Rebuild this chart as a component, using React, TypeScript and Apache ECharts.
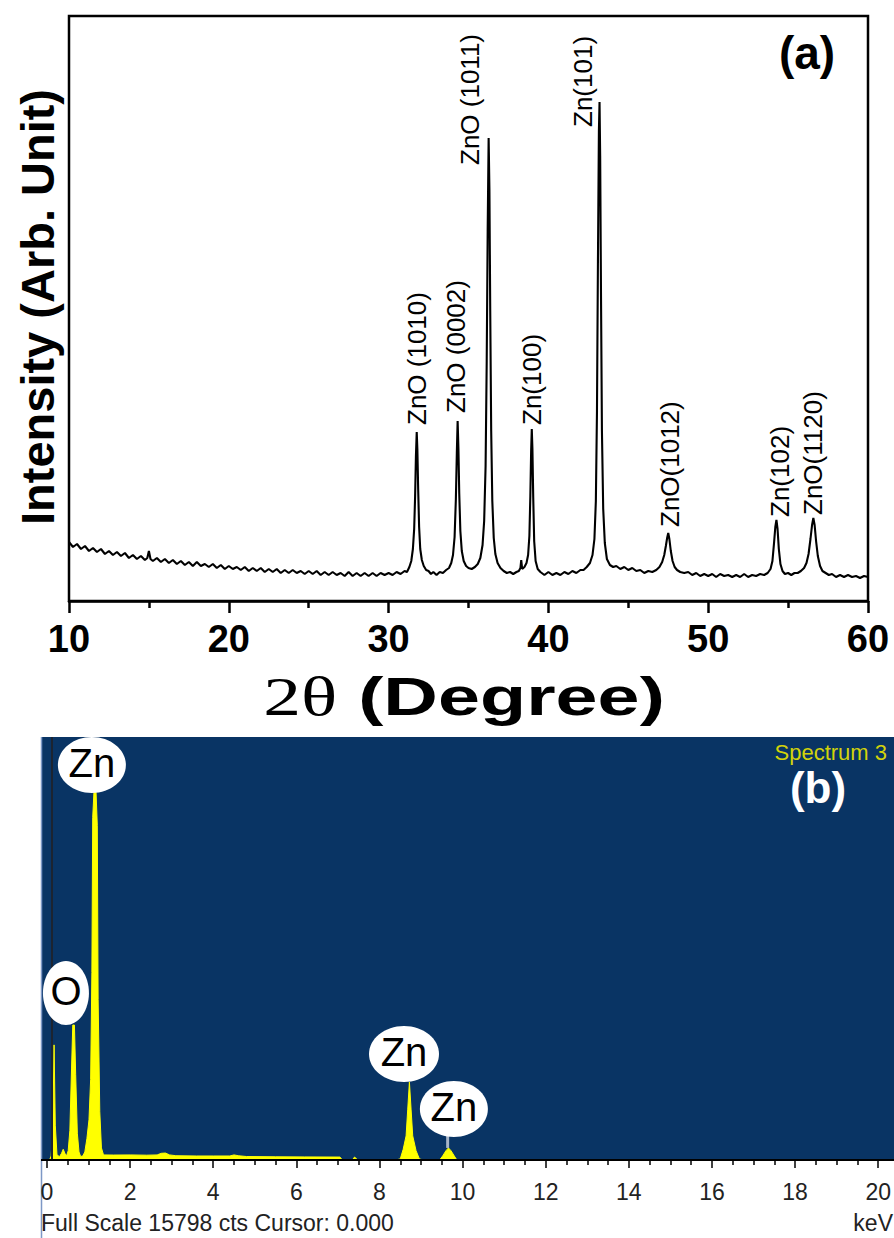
import React, { useEffect, useRef } from 'react';
import * as echarts from 'echarts';

// ---------- Panel (a): XRD pattern ----------
const xrdTicks = [10, 20, 30, 40, 50, 60];
const xrdData: [number, number][] = [
  [10.0,59],[10.25,54],[10.5,57],[10.75,52],[11.0,55],[11.25,50],[11.5,53],[11.75,49],[12.0,52],[12.25,47],[12.5,50],[12.75,46],[13.0,49],[13.25,45],[13.5,48],[13.75,43],[14.0,46],[14.25,42],[14.5,45],[14.75,41],[14.9,43],[15.0,50],[15.1,42],[15.25,40],[15.5,43],[15.75,39],[16.0,42],[16.25,38],[16.5,41],[16.75,37],[17.0,40],[17.25,36],[17.5,39],[17.75,35],[18.0,39],[18.25,35],[18.5,37],[18.75,34],[19.0,37],[19.25,33],[19.5,36],[19.75,32],[20.0,35],[20.25,32],[20.5,34],[20.75,31],[21.0,34],[21.25,30],[21.5,33],[21.75,30],[22.0,33],[22.25,29],[22.5,32],[22.75,29],[23.0,32],[23.25,28],[23.5,31],[23.75,28],[24.0,31],[24.25,28],[24.5,30],[24.75,27],[25.0,30],[25.25,27],[25.5,30],[25.75,26],[26.0,29],[26.25,26],[26.5,29],[26.75,26],[27.0,28],[27.25,25],[27.5,29],[27.75,25],[28.0,28],[28.25,25],[28.5,28],[28.75,25],[29.0,28],[29.25,25],[29.5,28],[29.75,26],[30.0,28],[30.25,26],[30.5,29],[30.75,27],[31.0,30],[31.15,29],[31.3,34],[31.42,40],[31.52,52],[31.6,72],[31.66,105],[31.71,145],[31.76,169],[31.8,152],[31.85,112],[31.91,74],[31.98,52],[32.08,41],[32.2,35],[32.35,31],[32.5,30],[32.65,27],[32.8,29],[33.0,26],[33.2,29],[33.4,28],[33.6,31],[33.78,33],[33.92,38],[34.03,46],[34.13,64],[34.21,102],[34.27,148],[34.32,180],[34.37,152],[34.42,108],[34.49,70],[34.58,50],[34.7,40],[34.85,35],[35.0,33],[35.2,32],[35.4,34],[35.58,37],[35.74,43],[35.88,56],[35.98,80],[36.07,135],[36.14,240],[36.2,370],[36.26,463],[36.31,410],[36.36,290],[36.42,170],[36.49,100],[36.58,63],[36.68,47],[36.82,38],[37.0,33],[37.2,30],[37.4,28],[37.6,29],[37.8,27],[38.0,29],[38.15,30],[38.25,33],[38.3,41],[38.36,32],[38.5,34],[38.63,38],[38.73,46],[38.81,65],[38.87,105],[38.92,150],[38.96,172],[39.0,152],[39.05,104],[39.11,60],[39.2,40],[39.33,32],[39.5,29],[39.75,26],[40.0,29],[40.25,26],[40.5,28],[40.75,26],[41.0,29],[41.25,27],[41.5,30],[41.75,28],[42.0,31],[42.2,31],[42.4,34],[42.6,38],[42.76,46],[42.88,62],[42.97,100],[43.04,190],[43.1,340],[43.16,470],[43.2,499],[43.24,445],[43.29,310],[43.35,170],[43.43,92],[43.53,58],[43.66,42],[43.85,36],[44.05,34],[44.25,35],[44.5,32],[44.75,34],[45.0,31],[45.25,33],[45.5,30],[45.75,31],[46.0,28],[46.25,30],[46.5,29],[46.75,31],[46.95,34],[47.12,39],[47.25,46],[47.35,55],[47.43,63],[47.5,68],[47.57,62],[47.66,50],[47.77,40],[47.9,34],[48.05,31],[48.25,29],[48.5,28],[48.75,29],[49.0,26],[49.25,28],[49.5,25],[49.75,27],[50.0,25],[50.25,27],[50.5,24],[50.75,27],[51.0,25],[51.25,26],[51.5,24],[51.75,26],[52.0,24],[52.25,27],[52.5,24],[52.75,26],[53.0,25],[53.25,27],[53.5,26],[53.72,28],[53.9,32],[54.02,40],[54.12,58],[54.2,74],[54.27,81],[54.34,72],[54.42,52],[54.52,37],[54.65,30],[54.8,27],[55.0,28],[55.2,26],[55.4,28],[55.6,28],[55.8,30],[56.0,33],[56.15,38],[56.28,47],[56.4,62],[56.5,76],[56.58,83],[56.66,76],[56.75,60],[56.86,45],[57.0,35],[57.15,30],[57.35,28],[57.55,26],[57.75,27],[58.0,24],[58.25,26],[58.5,24],[58.75,26],[59.0,24],[59.25,25],[59.5,23],[59.75,25],[60.0,24]
];
// label anchor (start of rotated text) in data coordinates: [2theta, intensity]
const xrdLabelText = ['ZnO (1010)', 'ZnO (0002)', 'ZnO (1011)', 'Zn(100)', 'Zn(101)', 'ZnO(1012)', 'Zn(102)', 'ZnO(1120)'];
const xrdLabelPos: [number, number][] = [
  [31.78, 176], [34.22, 188], [35.09, 436], [38.97, 176], [42.17, 474], [47.61, 74], [54.49, 84], [56.56, 86]
];

// ---------- Panel (b): EDS spectrum ----------
const edsTicks = [0, 2, 4, 6, 8, 10, 12, 14, 16, 18, 20];
const edsFullScale = 15798;
const edsData: [number, number][] = [
  [0.0,0],[0.06,0],[0.1,150],[0.14,1200],[0.17,4300],[0.2,1300],[0.24,200],[0.3,120],[0.35,250],[0.39,400],[0.43,250],[0.47,150],[0.51,350],[0.55,1100],[0.59,3400],[0.62,5040],[0.66,5040],[0.69,3200],[0.73,1000],[0.77,300],[0.81,130],[0.86,150],[0.91,300],[0.96,800],[1.01,1500],[1.05,3000],[1.08,7000],[1.1,12800],[1.13,13750],[1.18,13750],[1.21,12500],[1.23,6000],[1.27,1800],[1.31,450],[1.36,190],[1.6,185],[2.0,190],[2.4,180],[2.65,190],[2.75,250],[2.85,260],[2.95,190],[3.1,160],[3.6,150],[4.0,150],[4.4,150],[4.5,190],[4.6,160],[4.8,130],[5.5,120],[6.2,115],[7.05,110],[7.1,10],[7.35,10],[7.4,110],[7.47,10],[8.4,5],[8.5,40],[8.57,400],[8.64,900],[8.68,1900],[8.72,2913],[8.76,1900],[8.8,900],[8.88,350],[8.96,40],[9.05,5],[9.45,5],[9.52,150],[9.6,350],[9.66,450],[9.72,350],[9.8,150],[9.86,5],[20,5]
];
const edsLabelText = ['Zn', 'O', 'Zn', 'Zn'];
const edsLabelPos: [number, number][] = [[1.08, 14753], [0.456, 6237], [8.59, 3959], [9.79, 1905]];
const edsCursor = 0.12;
const edsKbeta: [number, number] = [9.64, 450];

const SANS = '"Liberation Sans", Arial, sans-serif';

export default function App() {
  const ref = useRef<HTMLDivElement>(null);
  useEffect(() => {
    document.body.style.margin = '0';
    const chart = echarts.init(ref.current!, null, { renderer: 'svg' });
    chart.setOption({
      animation: false,
      grid: [
        { left: 69, top: 16, width: 799, height: 585, show: true, borderColor: '#000', borderWidth: 2.5, backgroundColor: 'transparent' },
        { left: 47, top: 737, width: 833, height: 423 },
      ],
      xAxis: [
        {
          gridIndex: 0, type: 'value', min: xrdTicks[0], max: xrdTicks[xrdTicks.length - 1], interval: 10,
          axisLine: { show: true, onZero: false, lineStyle: { color: '#000', width: 2.5 } },
          axisTick: { show: true, inside: false, length: 12, lineStyle: { color: '#000', width: 2.5 } },
          minorTick: { show: true, splitNumber: 2, length: 7, lineStyle: { color: '#000', width: 2.5 } },
          splitLine: { show: false }, minorSplitLine: { show: false },
          axisLabel: { color: '#000', fontSize: 38, fontWeight: 'bold', fontFamily: SANS, margin: 19 },
        },
        {
          gridIndex: 1, type: 'value', min: edsTicks[0], max: edsTicks[edsTicks.length - 1], interval: 2,
          axisLine: { show: true, onZero: false, lineStyle: { color: '#000', width: 2 } },
          axisTick: { show: true, inside: false, length: 8, lineStyle: { color: '#000', width: 1.5 } },
          minorTick: { show: true, splitNumber: 4, length: 5, lineStyle: { color: '#000', width: 1.5 } },
          splitLine: { show: false }, minorSplitLine: { show: false },
          axisLabel: { color: '#222', fontSize: 23, fontFamily: SANS, margin: 20 },
        },
      ],
      yAxis: [
        { gridIndex: 0, type: 'value', min: 0, max: 585, axisLine: { show: false }, axisTick: { show: false }, axisLabel: { show: false }, splitLine: { show: false } },
        { gridIndex: 1, type: 'value', min: 0, max: edsFullScale, show: false, splitLine: { show: false } },
      ],
      series: [
        {
          type: 'line', xAxisIndex: 0, yAxisIndex: 0, data: xrdData, symbol: 'none',
          lineStyle: { color: '#000', width: 2.1 }, z: 3,
        },
        {
          type: 'line', xAxisIndex: 1, yAxisIndex: 1, data: edsData, symbol: 'none',
          lineStyle: { color: '#ffff00', width: 1 }, areaStyle: { color: '#ffff00', opacity: 1 }, z: 3,
          markLine: {
            silent: true, symbol: ['none', 'none'], label: { show: false },
            lineStyle: { color: '#1c2431', width: 2, type: 'solid' },
            data: [{ xAxis: edsCursor }],
          },
        },
      ],
    });

    const pA = (p: [number, number]) => chart.convertToPixel({ xAxisIndex: 0, yAxisIndex: 0 }, p) as number[];
    const pB = (p: [number, number]) => chart.convertToPixel({ xAxisIndex: 1, yAxisIndex: 1 }, p) as number[];

    const g: any[] = [];
    // blue EDS background
    const bTop = pB([0, edsFullScale])[1];
    const bBot = pB([0, 0])[1];
    g.push({ type: 'rect', z: -10, silent: true, shape: { x: 41, y: bTop, width: 894 - 41, height: bBot - bTop }, style: { fill: '#093464' } });
    g.push({ type: 'line', z: -5, silent: true, shape: { x1: 41.5, y1: bTop, x2: 41.5, y2: 1238 }, style: { stroke: '#7d98c6', lineWidth: 1.5 } });
    g.push({ type: 'line', z: 5, silent: true, shape: { x1: 41, y1: bBot, x2: 894, y2: bBot }, style: { stroke: '#000', lineWidth: 2 } });

    // XRD peak labels
    xrdLabelText.forEach((t, i) => {
      const [x, y] = pA(xrdLabelPos[i]);
      g.push({
        type: 'text', z: 50, x, y, rotation: Math.PI / 2,
        style: { text: t, fill: '#000', fontSize: 26, fontFamily: SANS, align: 'left', verticalAlign: 'middle' },
      });
    });

    // titles
    g.push({ type: 'text', z: 50, x: 37, y: 307, rotation: Math.PI / 2,
      style: { text: 'Intensity (Arb. Unit)', fill: '#000', fontSize: 47, fontWeight: 'bold', fontFamily: SANS, align: 'center', verticalAlign: 'middle' } });
    g.push({ type: 'text', z: 50, x: 464, y: 697, scaleX: 1.4,
      style: {
        text: '{a|2θ}{b| (Degree)}', fill: '#000', align: 'center', verticalAlign: 'middle',
        rich: {
          a: { fontSize: 54, fontFamily: '"Liberation Serif", "Times New Roman", serif', fill: '#000' },
          b: { fontSize: 54, fontWeight: 'bold', fontFamily: SANS, fill: '#000' },
        },
      } });
    g.push({ type: 'text', z: 50, x: 807, y: 53,
      style: { text: '(a)', fill: '#000', fontSize: 46, fontWeight: 'bold', fontFamily: SANS, align: 'center', verticalAlign: 'middle' } });

    // EDS ellipse labels
    const sizes = [[34, 28], [23, 32], [35, 28], [34, 28]];
    edsLabelText.forEach((t, i) => {
      const [cx, cy] = pB(edsLabelPos[i]);
      g.push({ type: 'ellipse', z: 60, silent: true, shape: { cx, cy, rx: sizes[i][0], ry: sizes[i][1] }, style: { fill: '#fff' } });
      g.push({ type: 'text', z: 61, x: cx, y: cy - 2,
        style: { text: t, fill: '#000', fontSize: 40, fontFamily: SANS, align: 'center', verticalAlign: 'middle' } });
    });
    // connector from last ellipse to Zn K-beta peak
    {
      const [, cy] = pB(edsLabelPos[3]);
      const [kx, ky] = pB(edsKbeta);
      g.push({ type: 'line', z: 59, silent: true, shape: { x1: kx, y1: cy + 26, x2: kx, y2: ky }, style: { stroke: '#a9b6c8', lineWidth: 3 } });
    }

    g.push({ type: 'text', z: 62, x: 818, y: 787,
      style: { text: '(b)', fill: '#fff', fontSize: 44, fontWeight: 'bold', fontFamily: SANS, align: 'center', verticalAlign: 'middle' } });
    g.push({ type: 'text', z: 63, x: 887, y: 752,
      style: { text: 'Spectrum 3', fill: '#d2d20a', fontSize: 22, fontFamily: SANS, align: 'right', verticalAlign: 'middle' } });
    g.push({ type: 'text', z: 50, x: 41, y: 1223,
      style: { text: 'Full Scale 15798 cts Cursor: 0.000', fill: '#222', fontSize: 23, fontFamily: SANS, align: 'left', verticalAlign: 'middle' } });
    g.push({ type: 'text', z: 50, x: 893, y: 1223,
      style: { text: 'keV', fill: '#222', fontSize: 23, fontFamily: SANS, align: 'right', verticalAlign: 'middle' } });

    chart.setOption({ graphic: g });
    return () => chart.dispose();
  }, []);
  return <div ref={ref} style={{ width: 894, height: 1238 }} />;
}
